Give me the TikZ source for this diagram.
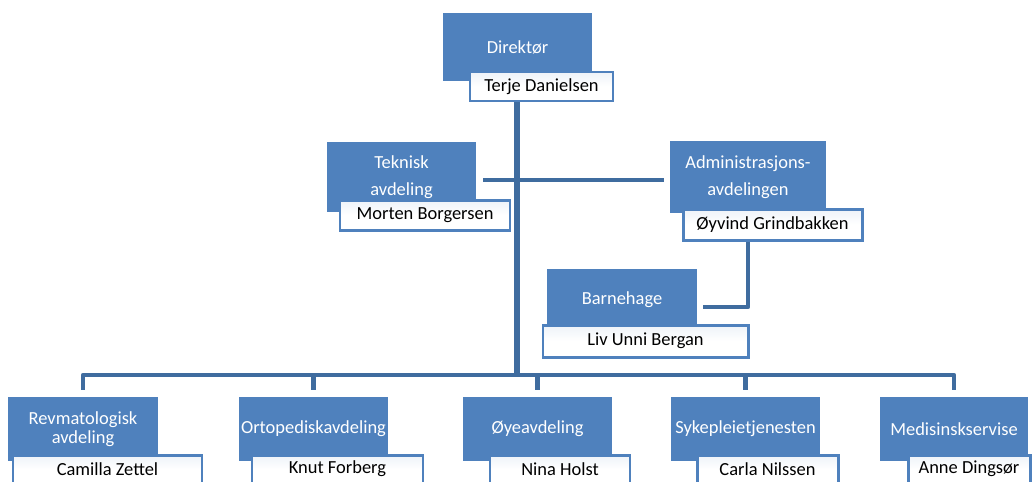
\documentclass[tikz,border=0pt]{standalone}
\usepackage{fontspec}
\setmainfont{Carlito}
\usetikzlibrary{calc}
\definecolor{boxblue}{HTML}{4F81BD}
\definecolor{lineblue}{HTML}{3F6C9F}

\begin{document}
\begin{tikzpicture}[
    x=0.02cm, y=-0.02cm,
    unit node/.style={rectangle,fill=boxblue,text=white,align=center,inner sep=0pt,
        font=\fontsize{10.5}{15.5}\selectfont},
    low unit/.style={unit node,font=\fontsize{10.5}{11}\selectfont},
    name node/.style={rectangle,draw=boxblue,line width=1.7pt,top color=boxblue!10,bottom color=white,
        middle color=white,text=black,inner sep=0pt,font=\fontsize{10.5}{12}\selectfont},
    link/.style={draw=lineblue,line width=2.5pt,line join=round},
    trunk/.style={link,line width=3.4pt}
]
    \def\px{0.02cm}
    \clip (0,0) rectangle (1035,481);

    % top levels
    \node[unit node,minimum width=149*\px,minimum height=68*\px] (dir) at (517.5,47) {Direktør};
    \node[name node,minimum width=143*\px,minimum height=29*\px] (dirname) at (541.5,86.5) {Terje Danielsen};

    \node[unit node,minimum width=149*\px,minimum height=70*\px] (tek) at (401.5,177) {Teknisk\\avdeling};
    \node[name node,minimum width=170*\px,minimum height=30*\px] (tekname) at (425,215) {Morten Borgersen};

    \node[unit node,minimum width=156*\px,minimum height=72*\px] (adm) at (748,177) {Administrasjons-\\avdelingen};
    \node[name node,minimum width=179*\px,minimum height=31*\px] (admname) at (772.5,224.5) {Øyvind Grindbakken};

    \node[unit node,minimum width=150*\px,minimum height=61*\px] (barn) at (622,299.5) {Barnehage};
    \node[name node,minimum width=205*\px,minimum height=32*\px] (barnname) at (645.5,341) {Liv Unni Bergan};

    % bottom row
    \node[low unit,minimum width=150*\px,minimum height=64*\px] (revm) at (83,429) {Revmatologisk\\avdeling};
    \node[name node,minimum width=189*\px,minimum height=28*\px] (revmname) at (107.5,469) {Camilla Zettel};

    \node[low unit,minimum width=149*\px,minimum height=64*\px] (ortop) at (313.5,429) {Ortopediskavdeling};
    \node[name node,minimum width=171*\px,minimum height=28*\px] (ortopname) at (337.5,469) {Knut Forberg};

    \node[low unit,minimum width=149*\px,minimum height=64*\px] (oye) at (537.5,429) {Øyeavdeling};
    \node[name node,minimum width=140*\px,minimum height=28*\px] (oyename) at (560,469) {Nina Holst};

    \node[low unit,minimum width=149*\px,minimum height=64*\px] (syke) at (745.5,429) {Sykepleietjenesten};
    \node[name node,minimum width=141*\px,minimum height=28*\px] (sykename) at (767.5,469) {Carla Nilssen};

    \node[low unit,minimum width=148*\px,minimum height=64*\px] (medi) at (954,429) {Medisinskservise};
    \node[name node,minimum width=122*\px,minimum height=28*\px] (mediname) at (969,469) {Anne Dingsør};

    % connectors
    \coordinate (hub) at (517,375);
    \draw[trunk] (dirname.south -| hub) -- (hub);
    \draw[link] ([xshift=7*\px,yshift=-3*\px]tek.east) -- ([xshift=-6*\px,yshift=-3*\px]adm.west);
    \draw[link] ([xshift=-24.5*\px]admname.south) |- ([xshift=6*\px,yshift=-7.5*\px]barn.east);
    \draw[link] ([yshift=7*\px]revm.north) |- (hub) -| ([yshift=7*\px]medi.north);
    \foreach \n in {ortop,oye,syke}
        \draw[link] ([yshift=7*\px]\n.north) -- (\n.north |- hub);
\end{tikzpicture}
\end{document}
